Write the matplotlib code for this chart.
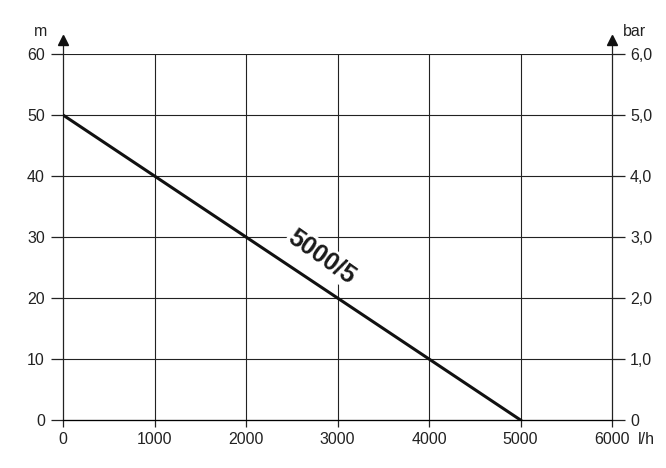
import matplotlib.pyplot as plt

plt.rcParams['font.family'] = ['Liberation Sans', 'DejaVu Sans']

# Förderstrom l/h und Förderhöhe m
flow = [0, 1000, 2000, 3000, 4000, 5000]
head = [50, 40, 30, 20, 10, 0]

x_ticks = [0, 1000, 2000, 3000, 4000, 5000, 6000]
y_ticks = [0, 10, 20, 30, 40, 50, 60]
bar_labels = ['0', '1,0', '2,0', '3,0', '4,0', '5,0', '6,0']

fig = plt.figure(figsize=(6.66, 4.68), dpi=100)
ax = fig.add_axes([63/666, 1-420/468, (612-63)/666, (420-54)/468])
ax.set_xlim(0, 6000)
ax.set_ylim(0, 60)

# Gitter
for v in x_ticks[1:-1]:
    ax.plot([v, v], [0, 60], color='#222222', lw=0.8, zorder=1)
for v in y_ticks[1:]:
    ax.plot([0, 6000], [v, v], color='#222222', lw=0.8, zorder=1)

ax.spines['top'].set_visible(False)
for s in ['left', 'right', 'bottom']:
    ax.spines[s].set_linewidth(0.9)
    ax.spines[s].set_color('#222222')

# Achsen mit Pfeilen
for xa in [0, 6000]:
    ax.plot([xa, xa], [60, 62.0], color='#222222', lw=0.9, clip_on=False)
    ax.plot([xa], [62.3], marker='^', ms=7, color='#111111', clip_on=False)

ax.plot(flow, head, color='#111111', lw=2.2, zorder=3)

ax.text(2830, 26.8, '5000/5', rotation=-35, fontsize=18, fontweight='bold',
        ha='center', va='center', color='#1a1a1a',
        rotation_mode='anchor', bbox=dict(facecolor='white', edgecolor='none', pad=1),
        zorder=2)

ax.set_xticks(x_ticks)
ax.set_xticklabels([str(v) for v in x_ticks])
ax.set_yticks(y_ticks)
ax.set_yticklabels([str(v) for v in y_ticks])
ax.tick_params(axis='x', direction='out', length=5, width=0.9, labelsize=11.5, pad=4, color='#222222', labelcolor='#222222')
ax.tick_params(axis='y', direction='out', length=9, width=0.9, labelsize=11.5, pad=4, color='#222222', labelcolor='#222222')

ax2 = ax.twinx()
ax2.set_ylim(0, 60)
ax2.set_yticks(y_ticks)
ax2.set_yticklabels(bar_labels)
ax2.spines['top'].set_visible(False)
ax2.spines['right'].set_visible(False)
ax2.spines['left'].set_visible(False)
ax2.tick_params(axis='y', direction='out', length=9, width=0.9, labelsize=11.5, pad=4, color='#222222', labelcolor='#222222')

fig.text(41/666, 1-31/468, 'm', fontsize=11.5, ha='center', va='center', color='#222222')
fig.text(634/666, 1-31/468, 'bar', fontsize=11.5, ha='center', va='center', color='#222222')
fig.text(646/666, 1-440/468, 'l/h', fontsize=11.5, ha='center', va='center', color='#222222')

fig.savefig('out.png', dpi=100)
